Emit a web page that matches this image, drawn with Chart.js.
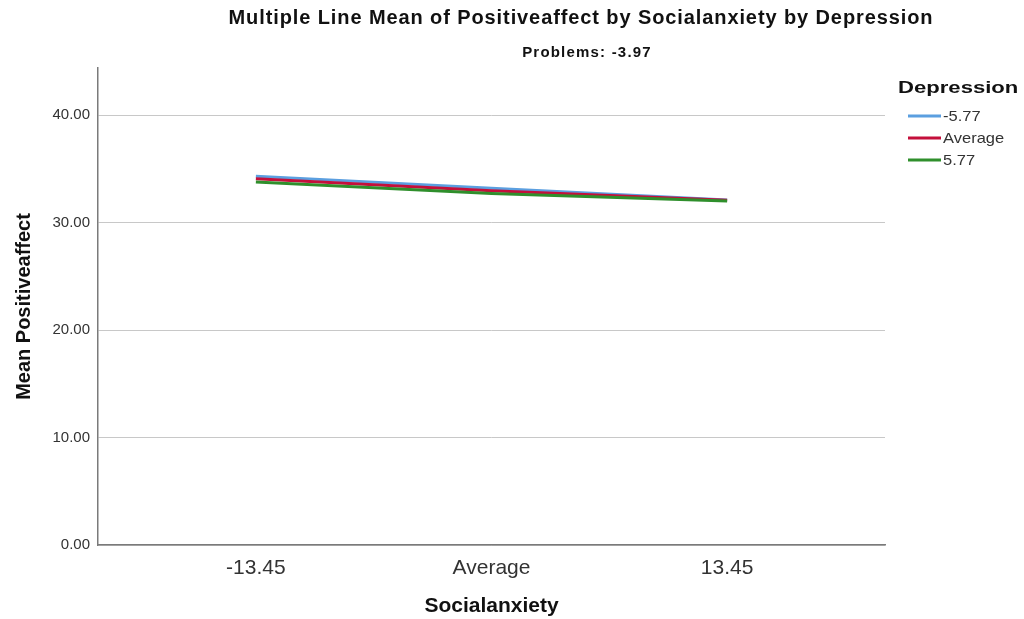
<!DOCTYPE html>
<html>
<head>
<meta charset="utf-8">
<script src="https://cdn.jsdelivr.net/npm/chart.js@4"></script>
<style>
  html, body { margin: 0; padding: 0; background: #fff; }
  #wrap { width: 1024px; height: 619px; }
</style>
</head>
<body>
<div id="wrap"><canvas id="myChart" width="1024" height="619"></canvas></div>
<script>
// data
var categories = ['-13.45', 'Average', '13.45'];
var seriesNames = ['-5.77', 'Average', '5.77'];
var lowDepression = [34.33, 33.2, 32.12];
var avgDepression = [34.09, 32.98, 32.08];
var highDepression = [33.8, 32.72, 32.03];
var yTicks = [0, 10, 20, 30, 40];

var chartTitle = 'Multiple Line Mean of Positiveaffect by Socialanxiety by Depression';
var chartSubtitle = 'Problems: -3.97';
var legendTitle = 'Depression';

var colors = ['#5b9fe0', '#c40f3b', '#2f8f2c'];

function toPoints(arr) {
    return arr.map(function(v, i) { return {x: i, y: v}; });
}

// titles + legend, SPSS style
var spssDecor = {
    id: 'spssDecor',
    beforeDraw: function(chart) {
        var c = chart.ctx;
        c.save();
        c.fillStyle = '#ffffff';
        c.fillRect(0, 0, chart.width, chart.height);
        c.restore();
    },
    afterDraw: function(chart) {
        var c = chart.ctx;
        c.save();
        c.fillStyle = '#111';
        c.textAlign = 'center';
        c.textBaseline = 'middle';
        c.font = 'bold 20px "Liberation Sans", Arial, sans-serif';
        c.letterSpacing = '0.9px';
        c.fillText(chartTitle, 581, 18);
        c.font = 'bold 15px "Liberation Sans", Arial, sans-serif';
        c.letterSpacing = '1.2px';
        c.fillText(chartSubtitle, 587, 53);

        // legend
        c.letterSpacing = '0px';
        c.textAlign = 'left';
        c.save();
        c.translate(898, 88);
        c.scale(1.3, 1);
        c.font = 'bold 17px "Liberation Sans", Arial, sans-serif';
        c.fillText(legendTitle, 0, 0);
        c.restore();
        chart.data.datasets.forEach(function(ds, i) {
            var y = 116 + i * 22;
            c.strokeStyle = ds.borderColor;
            c.lineWidth = 3;
            c.beginPath();
            c.moveTo(908, y);
            c.lineTo(941, y);
            c.stroke();
            c.save();
            c.translate(943, y + 1);
            c.scale(1.1, 1);
            c.fillStyle = '#333';
            c.font = '15px "Liberation Sans", Arial, sans-serif';
            c.fillText(ds.label, 0, 0);
            c.restore();
        });
        c.restore();
    }
};

var ctx = document.getElementById('myChart').getContext('2d');
var myChart = new Chart(ctx, {
    type: 'line',
    data: {
        datasets: [
            {label: seriesNames[0], data: toPoints(lowDepression), borderColor: colors[0], order: 2},
            {label: seriesNames[1], data: toPoints(avgDepression), borderColor: colors[1], order: 1},
            {label: seriesNames[2], data: toPoints(highDepression), borderColor: colors[2], order: 0}
        ]
    },
    options: {
        responsive: false,
        animation: false,
        layout: { padding: { top: 68, right: 139, left: 0, bottom: 0 } },
        elements: {
            line: { borderWidth: 3, tension: 0, fill: false },
            point: { radius: 0, hoverRadius: 0 }
        },
        plugins: {
            legend: { display: false },
            title: { display: false },
            tooltip: { enabled: false }
        },
        scales: {
            x: {
                type: 'linear',
                min: -0.67,
                max: 2.67,
                afterFit: function(scale) { scale.height = 74; },
                afterBuildTicks: function(scale) {
                    scale.ticks = categories.map(function(c, i) { return {value: i}; });
                },
                grid: { display: false, drawTicks: false },
                border: { display: true, color: '#7a7a7a', width: 1.5 },
                ticks: {
                    padding: 11,
                    color: '#333',
                    font: { family: '"Liberation Sans", Arial, sans-serif', size: 21 },
                    callback: function(v) { return categories[v]; }
                },
                title: {
                    display: true,
                    text: 'Socialanxiety',
                    color: '#111',
                    font: { family: '"Liberation Sans", Arial, sans-serif', size: 21, weight: 'bold' },
                    padding: { top: 0, bottom: 0 }
                }
            },
            y: {
                min: 0,
                max: 44.4,
                afterFit: function(scale) { scale.width = 98; },
                afterBuildTicks: function(scale) {
                    scale.ticks = yTicks.map(function(v) { return {value: v}; });
                },
                grid: { color: '#c8c8c8', lineWidth: 1, drawTicks: false },
                border: { display: true, color: '#7a7a7a', width: 1.5 },
                ticks: {
                    padding: 8,
                    color: '#333',
                    font: { family: '"Liberation Sans", Arial, sans-serif', size: 15 },
                    callback: function(v) { return Number(v).toFixed(2); }
                },
                title: {
                    display: true,
                    text: 'Mean Positiveaffect',
                    color: '#111',
                    font: { family: '"Liberation Sans", Arial, sans-serif', size: 20, weight: 'bold' },
                    padding: { top: 12, bottom: 0 }
                }
            }
        }
    },
    plugins: [spssDecor]
});
</script>
</body>
</html>
